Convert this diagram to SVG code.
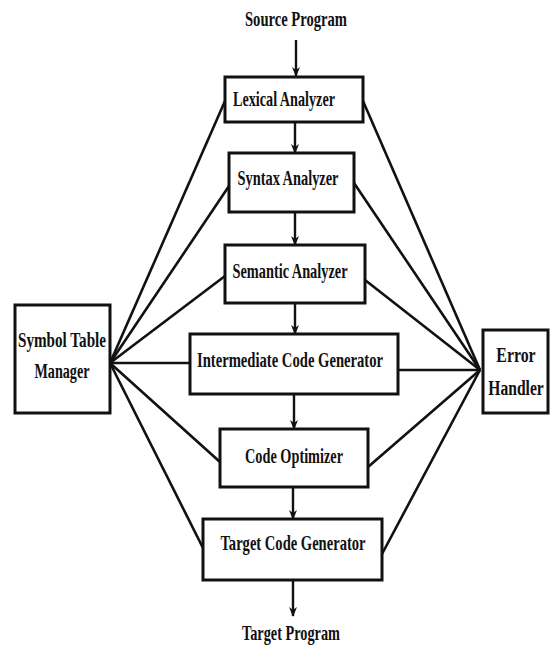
<svg xmlns="http://www.w3.org/2000/svg" width="551" height="648" viewBox="0 0 551 648">
<defs>
<style>
.box{fill:#fff;stroke:#111;stroke-width:3}
.ln{stroke:#111;stroke-width:2.6;fill:none}
.ar{stroke:#111;stroke-width:2.4;fill:none}
.t{font-family:"Liberation Serif",serif;font-weight:bold;font-size:22px;fill:#111;text-anchor:middle}
</style>
<marker id="ah" viewBox="0 0 10 10" refX="9" refY="5" markerWidth="10" markerHeight="10" markerUnits="userSpaceOnUse" orient="auto">
<path d="M0,1 L10,5 L0,9 L3,5 Z" fill="#111"/>
</marker>
</defs>
<rect width="551" height="648" fill="#fff"/>
<g id="connectors">
<line class="ln" x1="110" y1="363" x2="225" y2="101"/>
<line class="ln" x1="110" y1="363" x2="229" y2="186"/>
<line class="ln" x1="110" y1="363" x2="225" y2="276"/>
<line class="ln" x1="110" y1="363" x2="190" y2="363"/>
<line class="ln" x1="110" y1="363" x2="220" y2="462"/>
<line class="ln" x1="110" y1="363" x2="203" y2="548"/>
<line class="ln" x1="480" y1="370" x2="363" y2="101"/>
<line class="ln" x1="480" y1="370" x2="354" y2="183"/>
<line class="ln" x1="480" y1="370" x2="365" y2="280"/>
<line class="ln" x1="480" y1="370" x2="398" y2="370"/>
<line class="ln" x1="480" y1="370" x2="368" y2="467"/>
<line class="ln" x1="480" y1="370" x2="382" y2="554"/>
<line class="ar" x1="296" y1="40" x2="296" y2="76" marker-end="url(#ah)"/>
<line class="ar" x1="295" y1="122" x2="295" y2="153" marker-end="url(#ah)"/>
<line class="ar" x1="295" y1="212" x2="295" y2="245" marker-end="url(#ah)"/>
<line class="ar" x1="295" y1="303" x2="295" y2="334" marker-end="url(#ah)"/>
<line class="ar" x1="294" y1="394" x2="294" y2="429" marker-end="url(#ah)"/>
<line class="ar" x1="293" y1="487" x2="293" y2="519" marker-end="url(#ah)"/>
<line class="ar" x1="293" y1="580" x2="293" y2="616" marker-end="url(#ah)"/>
</g>
<g id="source"><text class="t" x="296" y="26" textLength="102" lengthAdjust="spacingAndGlyphs">Source Program</text></g>
<g id="lexical"><rect class="box" x="225" y="77" width="138" height="45"/><text class="t" x="284" y="106" textLength="102" lengthAdjust="spacingAndGlyphs">Lexical Analyzer</text></g>
<g id="syntax"><rect class="box" x="229" y="153" width="125" height="59"/><text class="t" x="288" y="185" textLength="101" lengthAdjust="spacingAndGlyphs">Syntax Analyzer</text></g>
<g id="semantic"><rect class="box" x="225" y="245" width="140" height="58"/><text class="t" x="290" y="278" textLength="115" lengthAdjust="spacingAndGlyphs">Semantic Analyzer</text></g>
<g id="intermediate"><rect class="box" x="190" y="334" width="208" height="60"/><text class="t" x="290" y="367" textLength="186" lengthAdjust="spacingAndGlyphs">Intermediate Code Generator</text></g>
<g id="optimizer"><rect class="box" x="220" y="429" width="148" height="58"/><text class="t" x="294" y="463" textLength="98" lengthAdjust="spacingAndGlyphs">Code Optimizer</text></g>
<g id="targetgen"><rect class="box" x="203" y="519" width="179" height="61"/><text class="t" x="293" y="550" textLength="145" lengthAdjust="spacingAndGlyphs">Target Code Generator</text></g>
<g id="target"><text class="t" x="291" y="640" textLength="98" lengthAdjust="spacingAndGlyphs">Target Program</text></g>
<g id="symbol"><rect class="box" x="15" y="305" width="95" height="108"/><text class="t" x="62" y="347" textLength="88" lengthAdjust="spacingAndGlyphs">Symbol Table</text><text class="t" x="62" y="378" textLength="55" lengthAdjust="spacingAndGlyphs">Manager</text></g>
<g id="error"><rect class="box" x="483" y="330" width="65" height="83"/><text class="t" transform="translate(516,362) scale(0.72,1)" x="0" y="0">Error</text><text class="t" transform="translate(516,395) scale(0.71,1)" x="0" y="0">Handler</text></g>
</svg>
